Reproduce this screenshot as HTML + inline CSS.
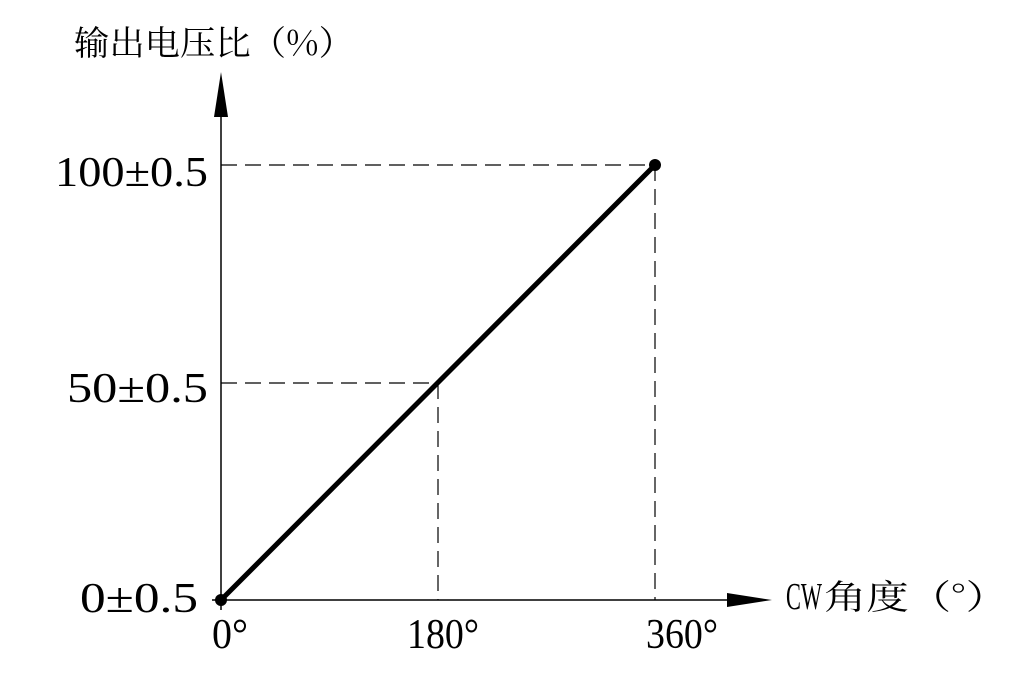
<!DOCTYPE html>
<html><head><meta charset="utf-8"><style>body{margin:0;background:#fff}svg{display:block}</style></head>
<body>
<svg width="1022" height="680" xmlns="http://www.w3.org/2000/svg" font-family="'Liberation Serif','Noto Serif CJK SC',serif" font-size="42" fill="#000">
<rect width="1022" height="680" fill="#fff"/>
<g stroke="#000" stroke-width="1.2" stroke-dasharray="16,8" fill="none">
<line x1="221" y1="165" x2="655" y2="165"/>
<line x1="655" y1="165" x2="655" y2="600"/>
<line x1="221" y1="383" x2="438" y2="383"/>
<line x1="438" y1="383" x2="438" y2="600"/>
</g>
<line x1="221" y1="117" x2="221" y2="610" stroke="#000" stroke-width="1.5"/>
<line x1="212" y1="600" x2="730" y2="600" stroke="#000" stroke-width="1.5"/>
<polygon points="221,72 214,117 228,117" fill="#000"/>
<polygon points="772,600 727,593 727,607" fill="#000"/>
<line x1="221" y1="600" x2="655" y2="165" stroke="#000" stroke-width="5"/>
<circle cx="221" cy="600" r="6"/>
<circle cx="655" cy="165" r="6"/>
<text x="74" y="55" font-size="34" font-family="'Noto Serif CJK SC',serif" textLength="280" lengthAdjust="spacingAndGlyphs">输出电压比（%）</text>
<text x="55" y="186" textLength="153" lengthAdjust="spacingAndGlyphs">100±0.5</text>
<text x="67" y="402" textLength="141" lengthAdjust="spacingAndGlyphs">50±0.5</text>
<text x="80" y="612" textLength="118" lengthAdjust="spacingAndGlyphs">0±0.5</text>
<text x="212" y="648" textLength="36" lengthAdjust="spacingAndGlyphs">0°</text>
<text x="407" y="648" textLength="72" lengthAdjust="spacingAndGlyphs">180°</text>
<text x="646" y="648" textLength="72" lengthAdjust="spacingAndGlyphs">360°</text>
<text x="786" y="609" font-size="38" textLength="36" lengthAdjust="spacingAndGlyphs">CW</text>
<text x="824" y="609" font-size="34" font-family="'Noto Serif CJK SC',serif" textLength="184" lengthAdjust="spacingAndGlyphs">角度（°）</text>
</svg>
</body></html>
